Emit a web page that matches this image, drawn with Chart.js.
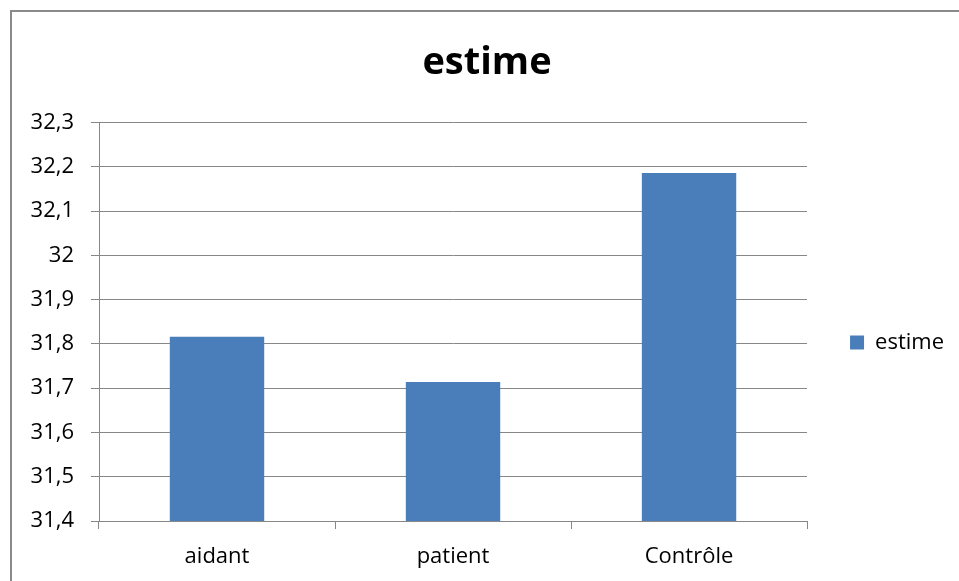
<!DOCTYPE html>
<html>
<head>
<meta charset="utf-8">
<script src="https://cdn.jsdelivr.net/npm/chart.js@4.4.0/dist/chart.umd.min.js"></script>
<style>
  html, body { margin: 0; padding: 0; background: #fff; }
  #wrap { position: relative; width: 959px; height: 581px; }
  #frame {
    position: absolute; left: 10px; top: 10px; width: 960px; height: 580px;
    border-left: 2px solid #8a8a8a; border-top: 2px solid #8a8a8a;
    pointer-events: none;
  }
</style>
</head>
<body>
<div id="wrap">
  <canvas id="chart" width="959" height="581"></canvas>
  <div id="frame"></div>
</div>
<script>
'use strict';

const categories = ['aidant', 'patient', 'Contrôle'];
const estime = [31.816, 31.714, 32.186];
const yMin = 31.4;
const yMax = 32.3;
const yStep = 0.1;

const BAR_BLUE = '#4a7ebb';
const GRID_GREY = '#878787';
const FONT = "'Open Sans', 'Liberation Sans', sans-serif";

const frenchNum = (v) => String(Math.round(v * 10) / 10).replace('.', ',');

new Chart(document.querySelector('#chart'), {
  type: 'bar',
  data: {
    labels: categories,
    datasets: [
      {
        label: 'estime',
        data: estime,
        backgroundColor: BAR_BLUE,
        borderWidth: 0,
        categoryPercentage: 1.0,
        barPercentage: 0.4,
      }
    ]
  },
  options: {
    responsive: false,
    animation: false,
    layout: {
      padding: { left: 20, right: 5, top: 0, bottom: 0 }
    },
    plugins: {
      title: {
        display: true,
        text: 'estime',
        color: '#000',
        font: { family: FONT, size: 38, weight: 'bold' },
        padding: { top: 40, bottom: 37 }
      },
      legend: {
        position: 'right',
        // empty legend title only used to push the entry down to mid-height
        title: {
          display: true,
          text: '',
          font: { family: FONT, size: 20 },
          padding: { top: 0, bottom: 80 }
        },
        labels: {
          color: '#000',
          font: { family: FONT, size: 22 },
          boxWidth: 14,
          boxHeight: 14,
          padding: 43
        }
      },
      tooltip: { enabled: false }
    },
    scales: {
      x: {
        offset: true,
        grid: {
          offset: true,
          drawOnChartArea: false,
          drawTicks: true,
          tickLength: 8,
          color: GRID_GREY
        },
        border: { color: GRID_GREY },
        ticks: {
          color: '#000',
          font: { family: FONT, size: 22 },
          padding: 15
        },
        afterFit: (scale) => { scale.height = 60; }
      },
      y: {
        min: yMin,
        max: yMax,
        grid: { color: GRID_GREY, tickLength: 8 },
        border: { color: GRID_GREY },
        ticks: {
          stepSize: yStep,
          color: '#000',
          font: { family: FONT, size: 22 },
          padding: 17,
          callback: (v) => frenchNum(v)
        },
        afterFit: (scale) => { scale.width = 79; }
      }
    }
  }
});
</script>
</body>
</html>
